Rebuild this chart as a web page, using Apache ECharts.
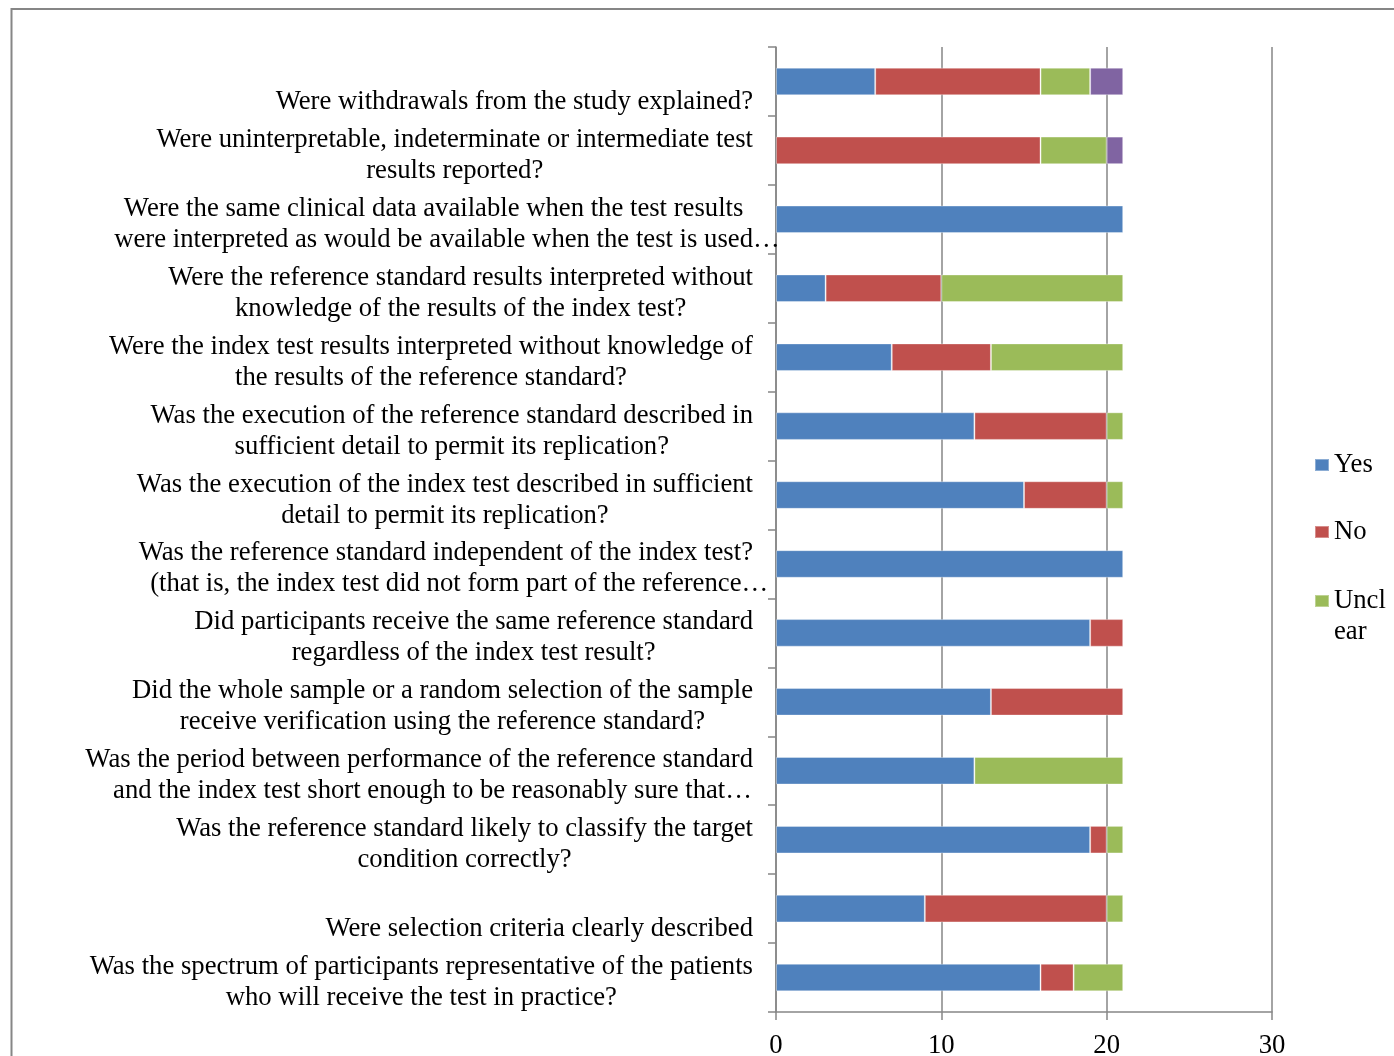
<!DOCTYPE html>
<html>
<head>
<meta charset="utf-8">
<script src="https://cdn.jsdelivr.net/npm/echarts@6/dist/echarts.min.js"></script>
<style>
  html, body { margin: 0; padding: 0; background: #ffffff; }
  #chart { width: 1394px; height: 1056px; }
</style>
</head>
<body>
<div id="chart"></div>
<script>
// QUADAS checklist items, listed top to bottom
const questions = [
  "\nWere withdrawals from the study explained?",
  "Were uninterpretable, indeterminate or intermediate test\nresults reported?",
  "Were the same clinical data available when the test results\nwere interpreted as would be available when the test is used…",
  "Were the reference standard results interpreted without\nknowledge of the results of the index test?",
  "Were the index test results interpreted without knowledge of\nthe results of the reference standard?",
  "Was the execution of the reference standard described in\nsufficient detail to permit its replication?",
  "Was the execution of the index test described in sufficient\ndetail to permit its replication?",
  "Was the reference standard independent of the index test?\n(that is, the index test did not form part of the reference…",
  "Did participants receive the same reference standard\nregardless of the index test result?",
  "Did the whole sample or a random selection of the sample\nreceive verification using the reference standard?",
  "Was the period between performance of the reference standard\nand the index test short enough to be reasonably sure that…",
  "Was the reference standard likely to classify the target\ncondition correctly?",
  "\nWere selection criteria clearly described",
  "Was the spectrum of participants representative of the patients\nwho will receive the test in practice?"
];

// Number of studies per answer
const yesCounts     = [6, 0, 21, 3, 7, 12, 15, 21, 19, 13, 12, 19, 9, 16];
const noCounts      = [10, 16, 0, 7, 6, 8, 5, 0, 2, 8, 0, 1, 11, 2];
const unclearCounts = [3, 4, 0, 11, 8, 1, 1, 0, 0, 0, 9, 1, 1, 3];
const naCounts      = [2, 1, 0, 0, 0, 0, 0, 0, 0, 0, 0, 0, 0, 0];

// Value axis ticks
const xTickValues = [0, 10, 20, 30];

const seriesNames = ["Yes", "No", "Unclear", "N/A"];
const seriesColors = ["#4F81BD", "#C0504D", "#9BBB59", "#8064A2"];

const FONT = "'Liberation Serif', 'Times New Roman', serif";
const FS = 26.7;
const GRAY = "#868686";

function toBarData(arr) {
  return arr.map(v => (v === 0 ? null : v));
}

// Each line is centred inside the label block; a trailing ellipsis hangs
// past the line end without taking part in the centring.
function formatQuestion(v) {
  return v.split("\n").map(l => {
    if (l === "") return "{c| }";
    if (l.endsWith("…")) return "{c|" + l.slice(0, -1) + "}{e|…}";
    return "{c|" + l + "}";
  }).join("\n");
}

const chart = echarts.init(document.getElementById("chart"), null, { renderer: "canvas" });

const option = {
  backgroundColor: "#ffffff",
  animation: false,
  graphic: [{
    type: "rect",
    left: 9, top: 6.5,
    shape: { x: 0, y: 0, width: 1500, height: 1200 },
    style: { fill: "none", stroke: GRAY, lineWidth: 2 },
    silent: true
  }],
  grid: {
    left: 776, right: 122, top: 47, bottom: 44,
    containLabel: false,
    outerBoundsMode: "none"
  },
  legend: [{
    orient: "vertical",
    left: 1314, top: 449.5,
    padding: 0,
    itemWidth: 14, itemHeight: 12, itemGap: 36,
    icon: "rect",
    data: ["Yes", "No"],
    textStyle: { fontFamily: FONT, fontSize: FS, lineHeight: 31, color: "#000" }
  }, {
    orient: "vertical",
    left: 1314, top: 554.5,
    padding: 0,
    itemWidth: 14, itemHeight: 12,
    icon: "rect",
    data: ["Unclear"],
    formatter: () => "\nUncl\near",
    textStyle: { fontFamily: FONT, fontSize: FS, lineHeight: 31, color: "#000" }
  }],
  xAxis: {
    type: "value",
    min: xTickValues[0],
    max: xTickValues[xTickValues.length - 1],
    interval: xTickValues[1] - xTickValues[0],
    axisLine: { show: true, lineStyle: { color: GRAY, width: 1.5 } },
    axisTick: { show: true, length: 8, lineStyle: { color: GRAY, width: 1.5 } },
    axisLabel: { fontFamily: FONT, fontSize: FS, color: "#000", margin: 20 },
    splitLine: { show: true, lineStyle: { color: GRAY, width: 1.5 } }
  },
  yAxis: {
    type: "category",
    inverse: true,
    data: questions,
    axisLine: { show: true, lineStyle: { color: GRAY, width: 1.5 } },
    axisTick: { show: true, length: 8, lineStyle: { color: GRAY, width: 1.5 } },
    splitLine: { show: false },
    axisLabel: {
      interval: 0,
      margin: 23,
      align: "right",
      padding: [10, 0, 0, 0],
      formatter: formatQuestion,
      rich: {
        c: { align: "center", fontFamily: FONT, fontSize: FS, lineHeight: 31, color: "#000" },
        e: { align: "center", width: -FS, padding: [0, 0, 0, FS], fontFamily: FONT, fontSize: FS, lineHeight: 31, color: "#000" }
      }
    }
  },
  series: [yesCounts, noCounts, unclearCounts, naCounts].map((arr, i) => ({
    name: seriesNames[i],
    type: "bar",
    stack: "total",
    barWidth: "40%",
    data: toBarData(arr),
    itemStyle: { color: seriesColors[i], borderColor: "rgba(255,255,255,0.35)", borderWidth: 1 },
    emphasis: { disabled: true }
  }))
};

chart.setOption(option);
</script>
</body>
</html>
